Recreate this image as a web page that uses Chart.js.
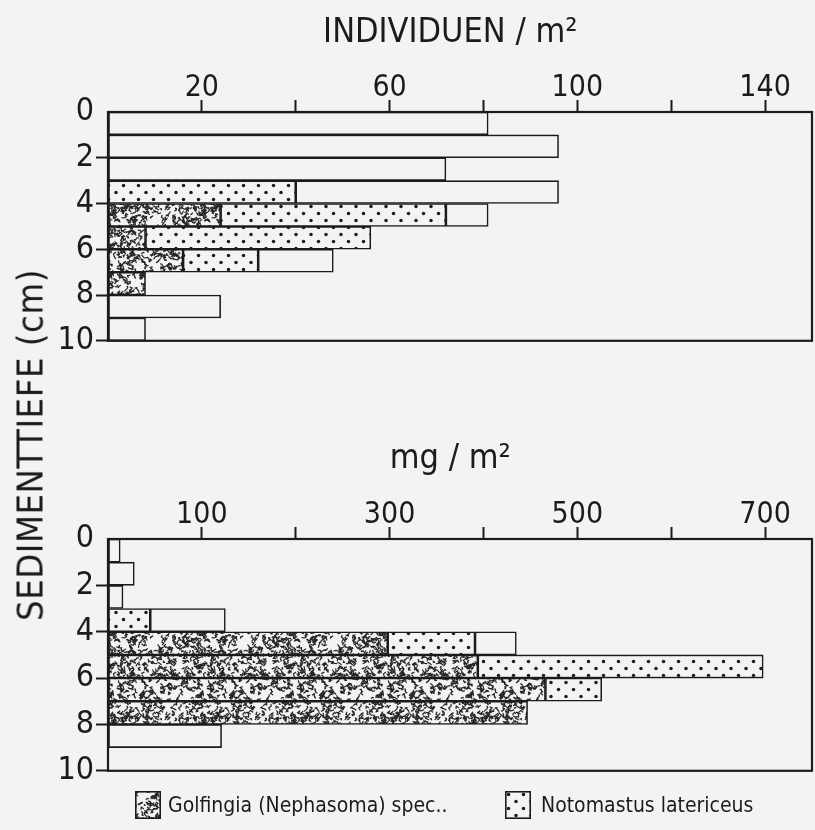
<!DOCTYPE html>
<html>
<head>
<meta charset="utf-8">
<script src="https://cdn.jsdelivr.net/npm/chart.js@4.4.1/dist/chart.umd.min.js"></script>
<style>
  html, body { margin:0; padding:0; }
  body { width:815px; height:830px; background:#f3f3f1; position:relative; overflow:hidden;
         font-family:"DejaVu Sans Condensed","DejaVu Sans",sans-serif; color:#1b1b1b; }
  canvas { position:absolute; left:0; }
  #ytitle { position:absolute; left:30px; top:445px; transform:translate(-50%,-50%) rotate(-90deg);
            white-space:nowrap; font-size:36px; letter-spacing:0.6px; }
  .sw { position:absolute; top:791px; width:26px; height:28px; }
  .lt { position:absolute; top:791px; font-size:21px; line-height:28px; white-space:nowrap; }
</style>
</head>
<body>
<canvas id="c1" width="815" height="362" style="top:0px"></canvas>
<canvas id="c2" width="815" height="372" style="top:420px"></canvas>
<div id="ytitle">SEDIMENTTIEFE (cm)</div>
<canvas class="sw" id="sw1" width="26" height="28" style="left:135px"></canvas>
<div class="lt" style="left:168px">Golfingia (Nephasoma) spec..</div>
<canvas class="sw" id="sw2" width="26" height="28" style="left:505px"></canvas>
<div class="lt" style="left:541px">Notomastus latericeus</div>
<script>
// ---- data ----
const depthBins = ['0-1','1-2','2-3','3-4','4-5','5-6','6-7','7-8','8-9','9-10'];
const depthTicks = [0, 2, 4, 6, 8, 10];
const seriesNames = ['Golfingia (Nephasoma) spec.', 'Notomastus latericeus', 'übrige'];

// Individuen / m2
const indGolfingia  = [null, null, null, null, 24,   8,  16,   8, null, null];
const indNotomastus = [null, null, null,   40, 48,  48,  16, null, null, null];
const indOther      = [  81,   96,   72,   56,  9, null, 16, null,   24,    8];
const indTickLabels = [20, 60, 100, 140];

// mg / m2
const massGolfingia  = [null, null, null, null, 298, 394, 466, 447, null, null];
const massNotomastus = [null, null, null,   45,  93, 304,  60, null, null, null];
const massOther      = [  13,   28,   16,   80,  44, null, null, null, 121, null];
const massTickLabels = [100, 300, 500, 700];

// ---- styles ----
const BG = '#f3f3f1';
const INK = '#1b1b1b';
const FONT = '"DejaVu Sans Condensed","DejaVu Sans",sans-serif';

function makeSpeckleCanvas() {
  const S = 90;
  const c = document.createElement('canvas'); c.width = S; c.height = S;
  const g = c.getContext('2d');
  g.fillStyle = BG; g.fillRect(0, 0, S, S);
  let s = 987654;
  const rnd = () => { s = (s * 1103515245 + 12345) & 0x7fffffff; return s / 0x7fffffff; };
  g.strokeStyle = '#262626'; g.lineWidth = 1.2; g.lineCap = 'round'; g.lineJoin = 'round';
  for (let i = 0; i < 560; i++) {
    const pts = [];
    let x = rnd() * S, y = rnd() * S;
    pts.push([x, y]);
    const n = 2 + Math.floor(rnd() * 3);
    for (let k = 0; k < n; k++) { x += (rnd() - 0.5) * 5; y += (rnd() - 0.5) * 5; pts.push([x, y]); }
    for (const dx of [-S, 0, S]) for (const dy of [-S, 0, S]) {
      g.beginPath(); g.moveTo(pts[0][0] + dx, pts[0][1] + dy);
      for (let k = 1; k < pts.length; k++) g.lineTo(pts[k][0] + dx, pts[k][1] + dy);
      g.stroke();
    }
  }
  return c;
}
function makeDotCanvas() {
  const c = document.createElement('canvas'); c.width = 15; c.height = 14;
  const g = c.getContext('2d');
  g.fillStyle = BG; g.fillRect(0, 0, 15, 14);
  g.fillStyle = INK;
  [[3.5, 3.5], [11, 10.5]].forEach(([x, y]) => { g.beginPath(); g.arc(x, y, 1.75, 0, Math.PI * 2); g.fill(); });
  return c;
}
const speckCanvas = makeSpeckleCanvas();
const dotCanvas = makeDotCanvas();
const ctxTmp = document.createElement('canvas').getContext('2d');
const speckPattern = ctxTmp.createPattern(speckCanvas, 'repeat');
const dotPattern = ctxTmp.createPattern(dotCanvas, 'repeat');

// legend swatches
function drawSwatch(id, pat) {
  const g = document.getElementById(id).getContext('2d');
  g.fillStyle = g.createPattern(pat, 'repeat'); g.fillRect(0, 0, 26, 28);
  g.strokeStyle = INK; g.lineWidth = 1.6; g.strokeRect(0.8, 0.8, 24.4, 26.4);
}
drawSwatch('sw1', speckCanvas);
drawSwatch('sw2', dotCanvas);

const framePlugin = {
  id: 'frame',
  afterDraw(chart) {
    const a = chart.chartArea, g = chart.ctx;
    g.save(); g.strokeStyle = INK; g.lineWidth = 2.2;
    g.strokeRect(a.left, a.top, a.right - a.left, a.bottom - a.top);
    g.restore();
  }
};

function makeChart(id, golf, noto, other, xMax, xStep, tickLabels, title, titlePad, axisH, padBottom) {
  const common = { borderColor: INK, borderWidth: 1.6, borderSkipped: false,
                   barPercentage: 1, categoryPercentage: 1 };
  return new Chart(document.getElementById(id), {
    type: 'bar',
    data: {
      labels: depthBins,
      datasets: [
        Object.assign({ label: seriesNames[0], data: golf, backgroundColor: speckPattern }, common),
        Object.assign({ label: seriesNames[1], data: noto, backgroundColor: dotPattern }, common),
        Object.assign({ label: seriesNames[2], data: other, backgroundColor: BG }, common)
      ]
    },
    options: {
      indexAxis: 'y',
      responsive: false,
      devicePixelRatio: 1,
      animation: false,
      layout: { padding: { left: 0, right: 3, top: 0, bottom: padBottom } },
      plugins: { legend: { display: false }, tooltip: { enabled: false } },
      scales: {
        x: {
          type: 'linear', position: 'top', stacked: true, min: 0, max: xMax,
          afterFit(s) { s.height = axisH; },
          border: { display: false },
          grid: { drawOnChartArea: false, drawTicks: true, tickLength: 12, tickWidth: 2,
                  tickColor: (c) => (c.tick && c.tick.value === 0) ? 'rgba(0,0,0,0)' : INK },
          ticks: { stepSize: xStep, includeBounds: false, autoSkip: false, maxRotation: 0, padding: 0,
                   color: INK, font: { family: FONT, size: 30, lineHeight: 0.8 },
                   callback: (v) => tickLabels.includes(v) ? String(v) : '' },
          title: { display: true, text: title, color: INK, padding: { top: titlePad, bottom: 0 },
                   font: { family: FONT, size: 34 } }
        },
        y: { type: 'category', stacked: true, display: false },
        yd: {
          type: 'linear', position: 'left', min: 0, max: 10, reverse: true,
          offset: false,
          afterFit(s) { s.width = 108; },
          border: { display: false },
          grid: { offset: false, drawOnChartArea: false, drawTicks: true, tickLength: 12, tickWidth: 2,
                  tickColor: (c) => (c.tick && c.tick.value === 0) ? 'rgba(0,0,0,0)' : INK },
          ticks: { stepSize: 2, autoSkip: false, padding: 2, color: INK,
                   font: { family: FONT, size: 32 },
                   callback: (v) => depthTicks.includes(v) ? String(v) : '' }
        }
      }
    },
    plugins: [framePlugin]
  });
}

makeChart('c1', indGolfingia, indNotomastus, indOther, 150, 20, indTickLabels,
          'INDIVIDUEN / m²  ', 13, 112, 15);
makeChart('c2', massGolfingia, massNotomastus, massOther, 750, 100, massTickLabels,
          'mg / m²  ', 19, 119, 21);
</script>
</body>
</html>
